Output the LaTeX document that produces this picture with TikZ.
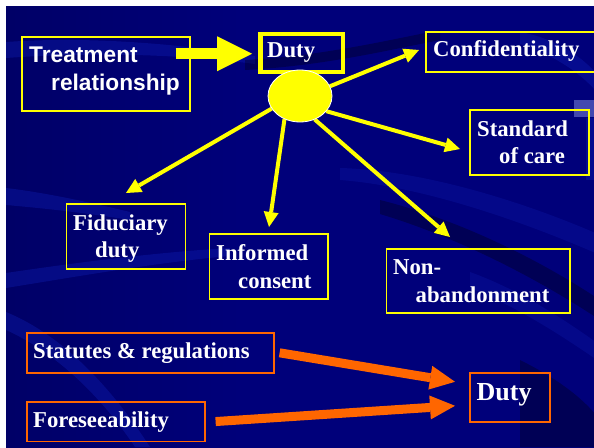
\documentclass[tikz,border=0pt]{standalone}
\usepackage{fontspec}
\setmainfont{Liberation Serif}
\newfontfamily\arialfont{Liberation Sans}
\usetikzlibrary{arrows.meta,shapes.geometric,calc}
\definecolor{navy}{HTML}{00007A}
\definecolor{navymid}{HTML}{000062}
\definecolor{navydark}{HTML}{000022}
\definecolor{navyright}{HTML}{00002E}
\definecolor{band}{HTML}{1020B8}
\definecolor{yel}{HTML}{FFFF00}
\definecolor{org}{HTML}{FF6600}
\pgfdeclarehorizontalshading{bgshade}{100bp}{color(0bp)=(navydark); color(20bp)=(navymid); color(45bp)=(navy); color(75bp)=(navy); color(92bp)=(navymid); color(100bp)=(navyright)}
\begin{document}
\begin{tikzpicture}[x=1pt,y=-1pt,
  ybox/.style={draw=yel, line width=1.6pt, inner sep=0pt, anchor=north west},
  obox/.style={draw=org, line width=1.6pt, inner sep=0pt, anchor=north west},
  txt/.style={text=white, font=\bfseries\fontsize{22.7}{27}\selectfont, inner sep=0pt, anchor=base west},
  btxt/.style={txt, font=\bfseries\fontsize{26}{30}\selectfont},
  stxt/.style={txt, font=\arialfont\bfseries\fontsize{22.7}{27}\selectfont},
  yarrow/.style={draw=yel, line width=4pt, -{Triangle[length=15pt,width=15pt,line width=0pt]}},
  oarrow/.style={draw=org, line width=9pt, -{Triangle[length=25pt,width=24pt,line width=0pt]}},
  barrow/.style={draw=yel, line width=11pt, -{Triangle[length=35pt,width=35pt,line width=0pt]}},
  lband/.style={fill=band, opacity=.35},
  dband/.style={fill=black, opacity=.3}]
\useasboundingbox (0,0) rectangle (594,447);
\fill[white] (0,0) rectangle (594,447);
\shade[shading=bgshade] (6,6) rectangle (594,447);
\begin{scope}
\clip (6,6) rectangle (594,447);
% background bands
\fill[lband] (6,42) .. controls (90,36) and (180,44) .. (255,56) -- (255,64) .. controls (180,54) and (90,52) .. (6,58) -- cycle;
\fill[dband] (245,60) .. controls (320,56) and (380,42) .. (440,30) -- (440,40) .. controls (380,52) and (320,66) .. (245,70) -- cycle;
\fill[lband] (520,32) .. controls (555,38) and (585,58) .. (600,78) -- (600,96) .. controls (585,76) and (555,55) .. (520,44) -- cycle;
\fill[band!60!white, opacity=.6] (574,100) rectangle (594,117);
\fill[lband] (586,118) rectangle (594,180);
\fill[lband] (6,188) .. controls (40,192) and (80,200) .. (130,212) -- (130,220) .. controls (80,212) and (40,208) .. (6,205) -- cycle;
\fill[lband] (6,273) .. controls (80,262) and (160,252) .. (230,248) -- (230,256) .. controls (160,262) and (80,276) .. (6,288) -- cycle;
\fill[lband] (6,312) .. controls (50,330) and (100,370) .. (150,447) -- (135,447) .. controls (90,380) and (40,345) .. (6,330) -- cycle;
\fill[lband, opacity=.25] (340,168) .. controls (420,170) and (520,200) .. (600,235) -- (600,255) .. controls (520,220) and (420,186) .. (340,180) -- cycle;
\fill[dband] (380,200) .. controls (460,220) and (540,260) .. (600,300) -- (600,320) .. controls (540,280) and (460,238) .. (380,214) -- cycle;
\fill[lband, opacity=.25] (470,272) .. controls (520,290) and (565,320) .. (600,345) -- (600,362) .. controls (565,338) and (520,308) .. (470,288) -- cycle;
\fill[dband] (520,360) .. controls (560,380) and (585,400) .. (600,420) -- (600,447) -- (520,447) -- cycle;
\end{scope}

% boxes
\node[ybox, minimum width=168pt, minimum height=74pt] (treat) at (21,36) {};
\node[draw=yel, line width=4.5pt, inner sep=0pt, anchor=north west, minimum width=82.5pt, minimum height=38pt] (dutyt) at (258,31.5) {};
\node[ybox, minimum width=172pt, minimum height=40pt] (conf) at (425,31) {};
\node[ybox, minimum width=119pt, minimum height=65pt] (std) at (469,109) {};
\node[ybox, minimum width=119pt, minimum height=65pt] (fid) at (65.5,203) {};
\node[ybox, minimum width=118.5pt, minimum height=65pt] (inf) at (208.5,233) {};
\node[ybox, minimum width=183.5pt, minimum height=64pt] (non) at (385.5,248) {};
\node[obox, minimum width=247pt, minimum height=40pt] (stat) at (26,332) {};
\node[obox, minimum width=178pt, minimum height=39.5pt] (fore) at (26,401) {};
\node[obox, minimum width=80pt, minimum height=49pt] (dutyb) at (469,372) {};

% texts
\node[stxt] (treat1) at (29,62) {Treatment};
\node[stxt] (treat2) at (51,90) {relationship};
\node[txt] (dutyt1) at (267,57) {Duty};
\node[txt] (conf1) at (433,56) {Confidentiality};
\node[txt] (std1) at (477,136) {Standard};
\node[txt] (std2) at (499,163) {of care};
\node[txt] (fid1) at (73,230) {Fiduciary};
\node[txt] (fid2) at (95,257) {duty};
\node[txt] (inf1) at (216,260) {Informed};
\node[txt] (inf2) at (238,288) {consent};
\node[txt] (non1) at (393,274) {Non-};
\node[txt] (non2) at (415.5,302) {abandonment};
\node[txt] (stat1) at (33,358) {Statutes \& regulations};
\node[txt] (fore1) at (33,427) {Foreseeability};
\node[btxt] (dutyb1) at (476.5,400) {Duty};

% sun and its arrows
\coordinate (tConf) at (419,50);
\coordinate (tStd) at (460,149);
\coordinate (tNon) at (450,237);
\coordinate (tInf) at (269,227);
\coordinate (tFid) at (126,193);
\node[ellipse, minimum width=64pt, minimum height=52pt, inner sep=0pt] (sun) at (300,96) {};
\draw[yarrow] (sun.18) -- (tConf);
\draw[yarrow] (sun.330) -- (tStd);
\draw[yarrow] (sun.302) -- (tNon);
\draw[yarrow] (sun.236) -- (tInf);
\draw[yarrow] (sun.204) -- (tFid);
\fill[yel] (sun.center) ellipse [x radius=32pt, y radius=26pt];
\draw[white, line width=0.8pt] (sun.center) ellipse [x radius=32pt, y radius=26pt];

% block arrow
\draw[barrow] ($(treat.east |- dutyt.west)+(-15,1)$) -- ($(dutyt.west)+(-6,1)$);

% orange arrows
\draw[oarrow] ($(stat.east)+(5,0)$) -- ($(dutyb.west)+(-14,-15.5)$);
\draw[oarrow] ($(fore.east)+(10,0)$) -- ($(dutyb.west)+(-14,8.5)$);
\end{tikzpicture}
\end{document}
